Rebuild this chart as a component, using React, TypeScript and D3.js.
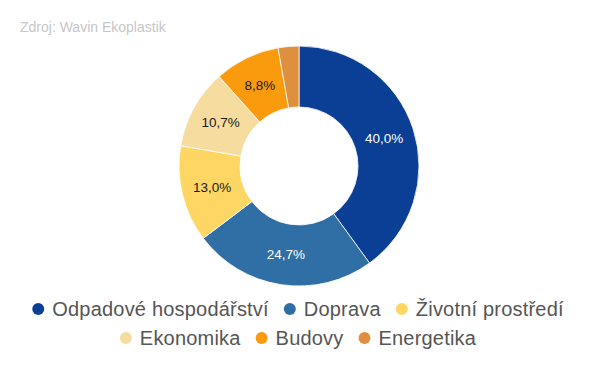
import React from "react";
import * as d3 from "d3";

const categories = ["Odpadové hospodářství", "Doprava", "Životní prostředí", "Ekonomika", "Budovy", "Energetika"];
const values = [40.0, 24.7, 13.0, 10.7, 8.8, 2.8];
const colors = ["#0a3f95", "#2f6fa5", "#fdd663", "#f7dca0", "#f99b0d", "#df903f"];
const labelColors = ["#ffffff", "#ffffff", "#1a1a1a", "#1a1a1a", "#1a1a1a", "#1a1a1a"];
const legendRows = [[0, 1, 2], [3, 4, 5]];
const sourceText = "Zdroj: Wavin Ekoplastik";

const W = 598, H = 368;
const cx = 299, cy = 166, rOuter = 120, rInner = 59;
const legendFontSize = 20;
const legendLetterSpacing = 0.2;
const legendFont = `${legendFontSize}px 'Liberation Sans', Arial, sans-serif`;

function measure(text: string, font: string, ls: number): number {
  const c = document.createElement("canvas");
  const ctx = c.getContext("2d")!;
  ctx.font = font;
  return ctx.measureText(text).width + ls * text.length;
}

export default function App() {
  const pie = d3.pie<number>().sort(null).value((d) => d)(values);
  const arc = d3.arc<d3.PieArcDatum<number>>().innerRadius(rInner).outerRadius(rOuter);
  const fmt = (v: number) => v.toFixed(1).replace(".", ",") + "%";

  const dotR = 6;
  const textOff = 14;
  const itemGap = 21;
  const rowYs = [309, 338];

  const legend = legendRows.map((row, ri) => {
    const widths = row.map((i) => textOff + measure(categories[i], legendFont, legendLetterSpacing));
    const total = widths.reduce((a, b) => a + b, 0) + dotR + itemGap * (row.length - 1);
    let x = 298 - total / 2 + dotR;
    return row.map((i, k) => {
      const item = { i, x, y: rowYs[ri] };
      x += widths[k] + itemGap;
      return item;
    });
  }).flat();

  return (
    <svg width={W} height={H} style={{ position: "absolute", left: 0, top: 0, background: "#fff" }}>
      <text x={20} y={32} fontSize={14} fill="#c6c6c6" fontFamily="'Liberation Sans', Arial, sans-serif">{sourceText}</text>
      <g transform={`translate(${cx},${cy})`}>
        {pie.map((d, i) => (
          <path key={i} d={arc(d) || ""} fill={colors[i]} stroke="#ffffff" strokeWidth={0.8} />
        ))}
        {pie.map((d, i) => {
          if (values[i] < 5) return null;
          const [lx, ly] = arc.centroid(d);
          return (
            <text key={"l" + i} x={lx} y={ly} dy="0.35em" textAnchor="middle" fontSize={13.5}
              fill={labelColors[i]} fontFamily="'Liberation Sans', Arial, sans-serif">{fmt(values[i])}</text>
          );
        })}
      </g>
      {legend.map((it) => (
        <g key={"lg" + it.i}>
          <circle cx={it.x} cy={it.y} r={dotR} fill={colors[it.i]} />
          <text x={it.x + textOff} y={it.y} dy="0.35em" fontSize={legendFontSize} letterSpacing={legendLetterSpacing}
            fill="#555555" fontFamily="'Liberation Sans', Arial, sans-serif">{categories[it.i]}</text>
        </g>
      ))}
    </svg>
  );
}
